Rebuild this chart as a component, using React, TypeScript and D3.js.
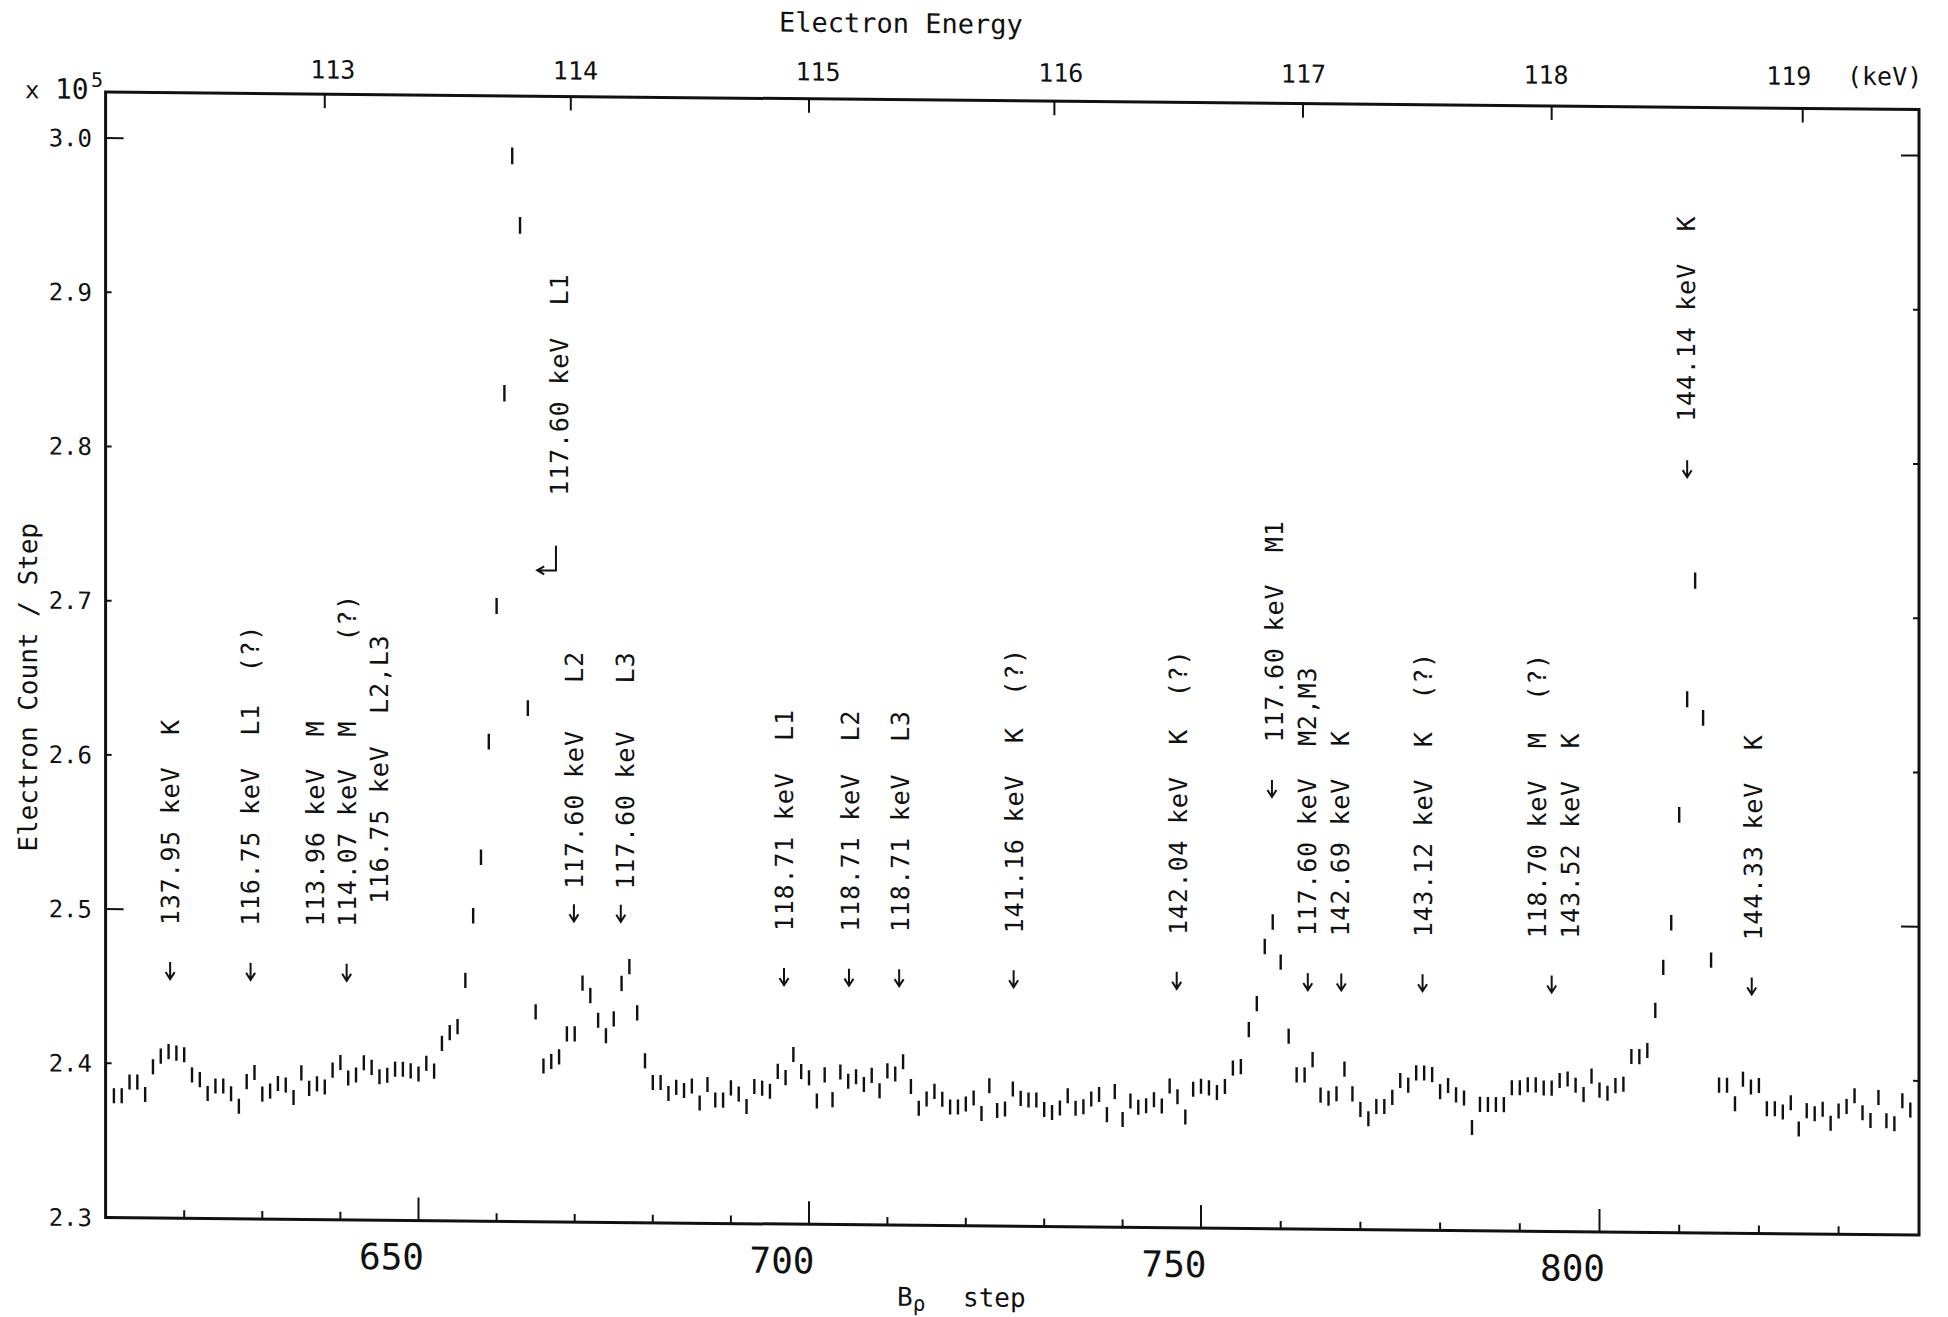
import React, { useEffect, useRef } from 'react';
import * as d3 from 'd3';

// electron counts per B-rho step (x 10^5), one value per step starting at step 611
const firstStep = 611;
const counts = [
  2.379, 2.379, 2.388, 2.388, 2.380, 2.398, 2.405, 2.408, 2.407, 2.406, // 611
  2.393, 2.390, 2.381, 2.386, 2.386, 2.381, 2.373, 2.389, 2.395, 2.381, // 621
  2.383, 2.388, 2.387, 2.379, 2.395, 2.385, 2.388, 2.386, 2.397, 2.402, // 631
  2.392, 2.394, 2.402, 2.399, 2.393, 2.394, 2.398, 2.398, 2.397, 2.395, // 641
  2.402, 2.397, 2.415, 2.422, 2.426, 2.456, 2.498, 2.536, 2.611, 2.699, // 651
  2.837, 2.991, 2.946, 2.633, 2.436, 2.401, 2.404, 2.407, 2.422, 2.422, // 661
  2.455, 2.447, 2.431, 2.421, 2.432, 2.455, 2.466, 2.436, 2.405, 2.391, // 671
  2.391, 2.384, 2.388, 2.386, 2.389, 2.378, 2.390, 2.380, 2.380, 2.388, // 681
  2.384, 2.376, 2.389, 2.388, 2.386, 2.399, 2.395, 2.410, 2.399, 2.395, // 691
  2.380, 2.397, 2.381, 2.399, 2.393, 2.396, 2.391, 2.397, 2.387, 2.400, // 701
  2.398, 2.406, 2.390, 2.376, 2.382, 2.387, 2.382, 2.377, 2.377, 2.379, // 711
  2.383, 2.373, 2.391, 2.375, 2.376, 2.389, 2.383, 2.382, 2.382, 2.376, // 721
  2.374, 2.377, 2.385, 2.377, 2.378, 2.383, 2.386, 2.373, 2.388, 2.370, // 731
  2.382, 2.378, 2.379, 2.383, 2.379, 2.392, 2.385, 2.372, 2.390, 2.392, // 741
  2.391, 2.388, 2.392, 2.404, 2.405, 2.429, 2.446, 2.483, 2.499, 2.473, // 751
  2.425, 2.400, 2.400, 2.410, 2.387, 2.385, 2.388, 2.404, 2.388, 2.378, // 761
  2.372, 2.380, 2.380, 2.386, 2.397, 2.394, 2.402, 2.402, 2.401, 2.390, // 771
  2.394, 2.388, 2.386, 2.367, 2.382, 2.382, 2.382, 2.382, 2.393, 2.393, // 781
  2.395, 2.395, 2.393, 2.393, 2.398, 2.399, 2.395, 2.389, 2.401, 2.392, // 791
  2.390, 2.395, 2.396, 2.414, 2.414, 2.418, 2.444, 2.472, 2.501, 2.571, // 801
  2.646, 2.723, 2.634, 2.477, 2.396, 2.396, 2.384, 2.400, 2.395, 2.396, // 811
  2.381, 2.381, 2.379, 2.385, 2.368, 2.380, 2.378, 2.381, 2.372, 2.380, // 821
  2.383, 2.390, 2.379, 2.374, 2.389, 2.374, 2.372, 2.387, 2.381,        // 831
];

const countTicks = [2.3, 2.4, 2.5, 2.6, 2.7, 2.8, 2.9, 3.0];
const countLabels = ['2.3', '2.4', '2.5', '2.6', '2.7', '2.8', '2.9', '3.0'];
const longCountTicks = [2.5, 3.0];

const stepTicks = [620, 630, 640, 650, 660, 670, 680, 690, 700, 710, 720, 730,
  740, 750, 760, 770, 780, 790, 800, 810, 820, 830];
const stepLabels = [650, 700, 750, 800];

// electron energy (keV) on the top axis and the B-rho step it falls on
const energyTicks = [113, 114, 115, 116, 117, 118, 119];
const energyTickSteps = [638.0, 669.5, 700.0, 731.3, 762.8, 794.0, 825.5];

// marker arrows: step and count level of the tip
const arrowSteps = [618.2, 628.5, 640.8, 669.9, 675.9, 696.8, 705.1, 711.5, 726.1,
  746.9, 758.9, 763.4, 767.6, 777.8, 794.0, 811.0, 819.1];
const arrowLevels = [2.455, 2.455, 2.455, 2.495, 2.495, 2.455, 2.455, 2.455, 2.455,
  2.455, 2.580, 2.455, 2.455, 2.455, 2.455, 2.790, 2.455];

// line identifications: text, step of the text column, count level where it starts
const lineLabels = [
  '137.95 keV  K', '116.75 keV  L1  (?)', '113.96 keV  M', '114.07 keV  M     (?)',
  '116.75 keV  L2,L3', '117.60 keV  L1', '117.60 keV   L2', '117.60 keV   L3',
  '118.71 keV  L1', '118.71 keV  L2', '118.71 keV  L3', '141.16 keV  K  (?)',
  '142.04 keV  K  (?)', '117.60 keV  M1', '117.60 keV  M2,M3', '142.69 keV  K',
  '143.12 keV  K  (?)', '118.70 keV  M  (?)', '143.52 keV  K', '144.14 keV  K',
  '144.33 keV  K',
];
const labelSteps = [618.2, 628.4, 636.7, 640.8, 644.9, 668.0, 669.9, 676.4, 696.8,
  705.2, 711.6, 726.1, 747.1, 759.2, 763.3, 767.5, 777.9, 792.1, 796.3, 810.9, 819.3];
const labelLevels = [2.49, 2.49, 2.49, 2.49, 2.505, 2.771, 2.516, 2.516, 2.49, 2.49,
  2.49, 2.49, 2.49, 2.6155, 2.49, 2.49, 2.49, 2.49, 2.49, 2.826, 2.49];

// bent arrow for 117.60 keV L1
const bentStemStep = 667.6;
const bentTipStep = 665.2;
const bentTop = 2.7385;
const bentBottom = 2.7224;

const mono = 'DejaVu Sans Mono';

function Spectrum() {
  const ref = useRef<SVGSVGElement>(null);

  useEffect(() => {
    const svg = d3.select(ref.current);
    svg.selectAll('*').remove();

    const left = 105.6, right = 1919, top = 92, bottom = 1217.5;

    const x = d3.scaleLinear()
      .domain([650, 700, 750, 800])
      .range([418.5, 809, 1201, 1599.5]);
    const y = d3.scaleLinear()
      .domain([2.3, 3.0])
      .range([bottom, 138]);
    const energyToStep = d3.scaleLinear().domain(energyTicks).range(energyTickSteps);

    // the scanned sheet is slightly sheared
    const g = svg.append('g')
      .attr('transform', `translate(${left},0) skewY(0.556) translate(${-left},0)`)
      .attr('font-family', mono)
      .attr('fill', '#111');

    g.append('path')
      .attr('d', `M${left},${top}H${right}V${bottom}H${left}Z`)
      .attr('fill', 'none')
      .attr('stroke', '#111')
      .attr('stroke-width', 3);

    // count ticks, both sides
    countTicks.forEach((v, i) => {
      const len = longCountTicks.includes(v) ? 18 : 6;
      g.append('line').attr('x1', left).attr('x2', left + len)
        .attr('y1', y(v)).attr('y2', y(v)).attr('stroke', '#111').attr('stroke-width', 2);
      g.append('line').attr('x1', right).attr('x2', right - len)
        .attr('y1', y(v)).attr('y2', y(v)).attr('stroke', '#111').attr('stroke-width', 2);
      g.append('text')
        .attr('x', 92).attr('y', y(v) + 8.7)
        .attr('text-anchor', 'end')
        .attr('font-size', 24)
        .text(countLabels[i]);
    });

    // step ticks
    stepTicks.forEach(s => {
      const len = stepLabels.includes(s) ? 23 : 8;
      g.append('line').attr('x1', x(s)).attr('x2', x(s))
        .attr('y1', bottom).attr('y2', bottom - len)
        .attr('stroke', '#111').attr('stroke-width', 2);
    });
    stepLabels.forEach(s => {
      g.append('text')
        .attr('x', x(s) - 27).attr('y', bottom + 49)
        .attr('text-anchor', 'middle')
        .attr('font-size', 36)
        .text(s);
    });

    // energy ticks on top (labels sit a little flatter than the sheared frame)
    const labelX = d3.scaleLinear()
      .domain([energyTicks[0], energyTicks[energyTicks.length - 1]])
      .range([x(energyToStep(113)) + 8, x(energyToStep(119)) - 14]);
    const labelY = (px: number) => top - 14.5 - 0.0054 * (px - left);
    energyTicks.forEach(e => {
      const ex = x(energyToStep(e));
      g.append('line').attr('x1', ex).attr('x2', ex)
        .attr('y1', top).attr('y2', top + 14)
        .attr('stroke', '#111').attr('stroke-width', 2);
      g.append('text')
        .attr('x', labelX(e)).attr('y', labelY(labelX(e)))
        .attr('text-anchor', 'middle')
        .attr('font-size', 25)
        .text(e);
    });
    g.append('text').attr('x', 1847).attr('y', labelY(1885))
      .attr('font-size', 25).text('(keV)');

    // multiplier
    g.append('text').attr('x', 25).attr('y', 99).attr('font-size', 24).text('x');
    g.append('text').attr('x', 55).attr('y', 99).attr('font-size', 28).text('10');
    g.append('text').attr('x', 91).attr('y', 87).attr('font-size', 20).text('5');

    // titles
    g.append('text').attr('x', 779).attr('y', 25).attr('font-size', 27).text('Electron Energy');
    g.append('text')
      .attr('transform', `translate(37,688) rotate(-90)`)
      .attr('text-anchor', 'middle')
      .attr('font-size', 26)
      .text('Electron Count / Step');
    const bl = g.append('text').attr('x', 897).attr('y', 1298).attr('font-size', 26);
    bl.append('tspan').text('B');
    bl.append('tspan').attr('font-size', 21).attr('dy', 5).text('ρ');
    g.append('text').attr('x', 963).attr('y', 1298).attr('font-size', 26).text('step');

    // data with error bars
    g.append('g').selectAll('line')
      .data(counts)
      .join('line')
      .attr('x1', (d, i) => x(firstStep + i))
      .attr('x2', (d, i) => x(firstStep + i))
      .attr('y1', d => y(d + Math.sqrt(d * 1e5) / 1e5))
      .attr('y2', d => y(d - Math.sqrt(d * 1e5) / 1e5))
      .attr('stroke', '#111')
      .attr('stroke-width', 2.4);

    // arrows
    arrowSteps.forEach((s, i) => {
      const ax = x(s), ay = y(arrowLevels[i]);
      g.append('path')
        .attr('d', `M${ax},${ay - 17}V${ay}M${ax - 4.5},${ay - 7}L${ax},${ay}L${ax + 4.5},${ay - 7}`)
        .attr('fill', 'none').attr('stroke', '#111').attr('stroke-width', 2);
    });
    const bx = x(bentStemStep), tx = x(bentTipStep), by = y(bentBottom);
    g.append('path')
      .attr('d', `M${bx},${y(bentTop)}V${by}H${tx}M${tx + 7},${by - 4}L${tx},${by}L${tx + 7},${by + 4}`)
      .attr('fill', 'none').attr('stroke', '#111').attr('stroke-width', 2);

    // line identifications
    lineLabels.forEach((t, i) => {
      g.append('text')
        .attr('transform', `translate(${x(labelSteps[i]) + 9},${y(labelLevels[i])}) rotate(-90)`)
        .attr('font-size', 25)
        .attr('letter-spacing', 0.8)
        .style('white-space', 'pre')
        .text(t);
    });
  }, []);

  return (
    <svg ref={ref} width="1948" height="1317"
      style={{ position: 'absolute', left: 0, top: 0, background: '#fff' }} />
  );
}

export default function App() {
  return <Spectrum />;
}
